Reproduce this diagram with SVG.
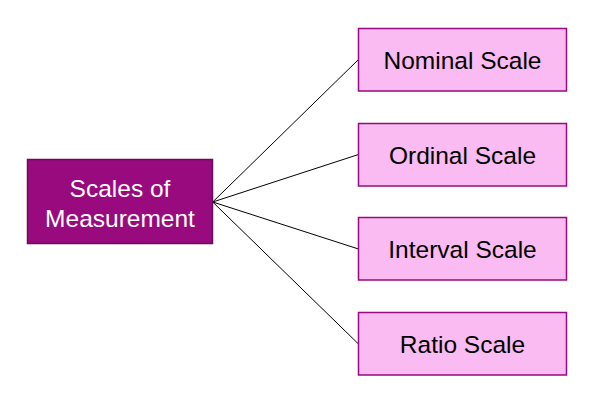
<svg xmlns="http://www.w3.org/2000/svg" width="611" height="408" viewBox="0 0 611 408">
<style>
.root{fill:#990a7e;stroke:#6e0a5c;stroke-width:1.5}
.leaf{fill:#f9bbf1;stroke:#990a7e;stroke-width:1.5}
.t{font-family:"Liberation Sans",Arial,sans-serif;font-size:24.5px;text-anchor:middle}
.tw{fill:#ffffff}
.tb{fill:#000000}
.c{stroke:#000000;stroke-width:1;fill:none}
</style>
<rect width="611" height="408" fill="#ffffff"/>
<g id="connectors">
<line class="c" x1="212.7" y1="202" x2="358.5" y2="59.5"/>
<line class="c" x1="212.7" y1="202" x2="358.5" y2="154.5"/>
<line class="c" x1="212.7" y1="202" x2="358.5" y2="249"/>
<line class="c" x1="212.7" y1="202" x2="358.5" y2="344"/>
</g>
<g id="root">
<rect class="root" x="27.5" y="159.5" width="185" height="84"/>
<text class="t tw" x="120" y="196.5">Scales of</text>
<text class="t tw" x="120" y="226.5">Measurement</text>
</g>
<g id="nominal">
<rect class="leaf" x="358.5" y="28.5" width="208" height="62.5"/>
<text class="t tb" x="462.5" y="69">Nominal Scale</text>
</g>
<g id="ordinal">
<rect class="leaf" x="358.5" y="123.5" width="208" height="62.5"/>
<text class="t tb" x="462.5" y="164">Ordinal Scale</text>
</g>
<g id="interval">
<rect class="leaf" x="358.5" y="217.5" width="208" height="62.5"/>
<text class="t tb" x="462.5" y="258">Interval Scale</text>
</g>
<g id="ratio">
<rect class="leaf" x="358.5" y="312.5" width="208" height="62.5"/>
<text class="t tb" x="462.5" y="353">Ratio Scale</text>
</g>
</svg>
